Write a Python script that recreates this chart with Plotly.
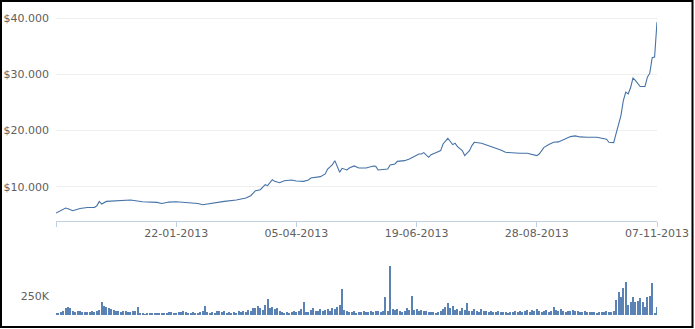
import plotly.graph_objects as go

# ---- data ----
# trading-day index of each traced price point
price_idx = [0, 2, 4, 5, 7, 10, 13, 16, 17, 18, 19, 21, 25, 31, 36, 39, 42, 44, 47, 50,
             56, 59, 61, 64, 68, 70, 75, 79, 81, 83, 85, 87, 88, 90, 91, 93, 95, 98, 100, 103,
             105, 106, 110, 112, 113, 115, 116, 117, 118, 119, 121, 122, 124, 126, 129, 132, 133, 134, 136, 138,
             139, 141, 142, 145, 147, 149, 151, 152, 153, 155, 156, 158, 160, 161, 163, 165, 166, 167, 169, 170,
             172, 173, 174, 177, 180, 183, 185, 187, 190, 193, 196, 198, 200, 201, 203, 205, 207, 209, 211, 212,
             214, 216, 218, 221, 225, 227, 229, 230, 232, 233, 234, 235, 236, 237, 238, 239, 240, 241, 243, 245,
             246, 247, 248, 249, 250]
price_val = [5300, 5710, 6200, 6070, 5710, 6130, 6300, 6300, 6600, 7380, 6900, 7380, 7500, 7620, 7320, 7260, 7200, 7020, 7260, 7320,
             7200, 7020, 6790, 7020, 7200, 7380, 7620, 7980, 8390, 9290, 9460, 10360, 10180, 11250, 10950, 10710, 11070, 11200, 11020, 10950,
             11200, 11550, 11790, 12270, 13160, 13930, 14640, 13450, 12560, 13270, 12980, 13340, 13700, 13340, 13340, 13700, 13630, 12980, 13090, 13160,
             13880, 14050, 14520, 14640, 14940, 15360, 15830, 15830, 16070, 15240, 15710, 16070, 16430, 17620, 18630, 17500, 17740, 17140, 16430, 15540,
             16430, 17320, 17910, 17740, 17320, 16910, 16550, 16130, 16010, 15950, 15950, 15710, 15540, 15830, 17020, 17500, 17910, 17980, 18390, 18450,
             18930, 19050, 18870, 18810, 18810, 18630, 18450, 17910, 17860, 19520, 20890, 22680, 25360, 26850, 26550, 27620, 29340, 28930, 27860, 27860,
             29520, 30230, 32980, 33100, 39340]

# daily volume, thousands, one per trading day 0..250
volume_k = [15, 20, 35, 60, 90, 105, 95, 60, 45, 55,
            50, 40, 45, 35, 40, 50, 45, 60, 70, 175,
            120, 110, 95, 80, 70, 55, 50, 45, 50, 55,
            45, 40, 50, 60, 110, 20, 15, 12, 15, 20,
            15, 25, 20, 18, 30, 25, 20, 35, 40, 25,
            30, 45, 35, 50, 40, 30, 25, 35, 20, 30,
            40, 55, 125, 35, 30, 45, 25, 50, 60, 35,
            55, 30, 40, 25, 45, 30, 55, 35, 60, 45,
            70, 50, 90, 100, 120, 95, 70, 130, 210, 90,
            110, 85, 100, 60, 40, 30, 35, 25, 45, 50,
            40, 60, 85, 180, 45, 35, 70, 90, 60, 55,
            80, 50, 65, 75, 60, 95, 85, 110, 130, 350,
            70, 55, 45, 40, 55, 30, 45, 35, 50, 40,
            45, 55, 40, 50, 60, 45, 55, 240, 60, 650,
            80, 70, 75, 60, 45, 60, 90, 70, 250, 65,
            80, 55, 70, 60, 50, 35, 45, 40, 30, 45,
            55, 80, 110, 165, 95, 120, 70, 85, 60, 100,
            70, 165, 60, 55, 75, 50, 45, 80, 60, 55,
            45, 60, 40, 35, 55, 45, 40, 35, 30, 45,
            40, 55, 45, 60, 35, 50, 65, 45, 70, 60,
            85, 50, 40, 55, 70, 45, 60, 110, 65, 55,
            75, 50, 40, 60, 55, 65, 60, 55, 45, 40,
            50, 35, 40, 45, 35, 30, 45, 40, 35, 50,
            45, 40, 55, 200, 310, 245, 365, 445, 135, 180,
            245, 180, 190, 230, 175, 110, 245, 255, 430, 20,
            110]
volume_idx = list(range(len(volume_k)))

x_tick_idx = [0, 50, 100, 150, 200, 250]
x_tick_text = ["", "22-01-2013", "05-04-2013", "19-06-2013", "28-08-2013", "07-11-2013"]
price_ticks = [10000, 20000, 30000, 40000]
price_tick_text = ["$10.000", "$20.000", "$30.000", "$40.000"]
vol_ticks = [250]
vol_tick_text = ["250K"]

# ---- layout geometry (pixels) ----
W, H = 695, 329
L, R, T, B = 56, 38, 12, 14
PW, PH = W - L - R, H - T - B
def px_x(p):
    return (p - L) / PW
def px_y(p):
    return (H - B - p) / PH

BLUE = "#4572A7"
GREY = "#606060"
font = dict(family="DejaVu Sans, Verdana, sans-serif", size=11, color=GREY)

fig = go.Figure()
fig.add_trace(go.Scatter(x=price_idx, y=price_val, mode="lines",
                         line=dict(color=BLUE, width=1.1), xaxis="x", yaxis="y",
                         hoverinfo="skip", showlegend=False))
fig.add_trace(go.Bar(x=volume_idx, y=volume_k, marker=dict(color="#5A82B5", line=dict(width=0)),
                     width=0.45, xaxis="x2", yaxis="y2", showlegend=False, hoverinfo="skip"))

fig.update_layout(
    width=W, height=H, margin=dict(l=L, r=R, t=T, b=B, autoexpand=False),
    paper_bgcolor="white", plot_bgcolor="white", font=font,
    xaxis=dict(domain=[0, 1], anchor="y", range=[0, 250], tickmode="array",
               tickvals=x_tick_idx, ticktext=x_tick_text, showgrid=False, zeroline=False,
               showline=True, linecolor="#C0D0E0", linewidth=1, automargin=False,
               ticks="outside", ticklen=5, tickcolor="#C0D0E0", tickfont=font,
               ticklabelstandoff=-3),
    yaxis=dict(domain=[px_y(220.5), 1], range=[3977, 41131], tickmode="array",
               tickvals=price_ticks, ticktext=price_tick_text, showgrid=True,
               gridcolor="#EEEEEE", gridwidth=1, zeroline=False, showline=False,
               tickfont=font, ticklabelstandoff=6, automargin=False),
    xaxis2=dict(domain=[0, 1], anchor="y2", matches="x", range=[0, 250], showticklabels=False,
                showgrid=False, zeroline=False, showline=False, ticks="", automargin=False),
    yaxis2=dict(domain=[0, px_y(262)], range=[0, 708], tickmode="array",
                tickvals=vol_ticks, ticktext=vol_tick_text, showgrid=False,
                zeroline=False, showline=False, tickfont=font, ticklabelstandoff=6,
                automargin=False),
    bargap=0,
    shapes=[dict(type="rect", xref="paper", yref="paper",
                 x0=px_x(1), x1=px_x(692.5), y0=px_y(327), y1=px_y(1),
                 line=dict(color="black", width=2), fillcolor="rgba(0,0,0,0)", layer="above")],
)

fig.write_html("out.html")
